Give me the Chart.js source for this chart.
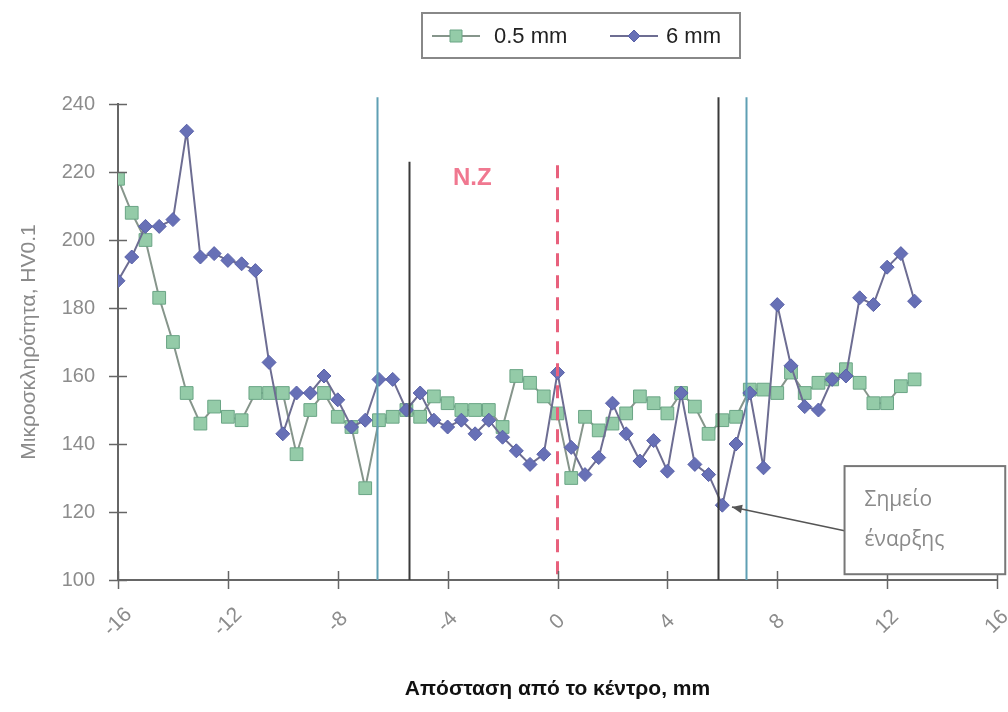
<!DOCTYPE html>
<html>
<head>
<meta charset="utf-8">
<script src="https://cdn.jsdelivr.net/npm/chart.js@4.4.1/dist/chart.umd.min.js"></script>
<style>
    html, body { margin: 0; padding: 0; background: #fff; }
    #wrap { width: 1008px; height: 712px; }
</style>
</head>
<body>
<div id="wrap"><canvas id="hvChart" width="1008" height="712"></canvas></div>
<script>
// Απόσταση από το κέντρο (mm)
const distances = [
    -16, -15.5, -15, -14.5, -14, -13.5, -13, -12.5, -12, -11.5, -11, -10.5, -10, -9.5, -9,
    -8.5, -8, -7.5, -7, -6.5, -6, -5.5, -5, -4.5, -4, -3.5, -3, -2.5, -2, -1.5,
    -1, -0.5, 0, 0.5, 1, 1.5, 2, 2.5, 3, 3.5, 4, 4.5, 5, 5.5, 6,
    6.5, 7, 7.5, 8, 8.5, 9, 9.5, 10, 10.5, 11, 11.5, 12, 12.5, 13
];

// Μικροσκληρότητα HV0.1 στα 0.5 mm
const hv05 = [
    218, 208, 200, 183, 170, 155, 146, 151, 148, 147, 155, 155, 155, 137, 150,
    155, 148, 145, 127, 147, 148, 150, 148, 154, 152, 150, 150, 150, 145, 160,
    158, 154, 149, 130, 148, 144, 146, 149, 154, 152, 149, 155, 151, 143, 147,
    148, 156, 156, 155, 161, 155, 158, 159, 162, 158, 152, 152, 157, 159
];

// Μικροσκληρότητα HV0.1 στα 6 mm
const hv6 = [
    188, 195, 204, 204, 206, 232, 195, 196, 194, 193, 191, 164, 143, 155, 155,
    160, 153, 145, 147, 159, 159, 150, 155, 147, 145, 147, 143, 147, 142, 138,
    134, 137, 161, 139, 131, 136, 152, 143, 135, 141, 132, 155, 134, 131, 122,
    140, 155, 133, 181, 163, 151, 150, 159, 160, 183, 181, 192, 196, 182
];

const seriesNames = ['0.5 mm', '6 mm'];
const xTicks = [-16, -12, -8, -4, 0, 4, 8, 12, 16];
const yTicks = [100, 120, 140, 160, 180, 200, 220, 240];

function toPoints(values) {
    return values.map(function (v, i) { return { x: distances[i], y: v }; });
}

// Γραμμές ζωνών, κείμενα, άξονες και υπόμνημα
const decorPlugin = {
    id: 'decor',
    afterDatasetsDraw(chart) {
        const { ctx, chartArea, scales: { x, y } } = chart;
        ctx.save();

        // όρια ζωνών
        const bounds = [
            { v: -6.57, from: 242, color: '#5f9fb4' },
            { v: -5.4, from: 223, color: '#3a3a3a' },
            { v: 5.84, from: 242, color: '#3a3a3a' },
            { v: 6.86, from: 242, color: '#5f9fb4' }
        ];
        ctx.lineWidth = 2;
        bounds.forEach(function (b) {
            const px = Math.round(x.getPixelForValue(b.v)) + 0.5;
            ctx.strokeStyle = b.color;
            ctx.beginPath();
            ctx.moveTo(px, y.getPixelForValue(b.from));
            ctx.lineTo(px, chartArea.bottom);
            ctx.stroke();
        });

        // κέντρο συγκόλλησης
        ctx.strokeStyle = '#e8607c';
        ctx.lineWidth = 3;
        ctx.setLineDash([13, 9]);
        ctx.beginPath();
        ctx.moveTo(x.getPixelForValue(0), y.getPixelForValue(222));
        ctx.lineTo(x.getPixelForValue(0), chartArea.bottom);
        ctx.stroke();
        ctx.setLineDash([]);

        ctx.fillStyle = '#f07890';
        ctx.font = 'bold 24px Arial, "Liberation Sans", sans-serif';
        ctx.textAlign = 'center';
        ctx.textBaseline = 'middle';
        ctx.fillText('N.Z', x.getPixelForValue(-3.1), y.getPixelForValue(218));

        // σημάδια αξόνων
        ctx.strokeStyle = '#666';
        ctx.lineWidth = 1.5;
        yTicks.forEach(function (v) {
            const py = Math.round(y.getPixelForValue(v)) + 0.5;
            ctx.beginPath();
            ctx.moveTo(chartArea.left - 9, py);
            ctx.lineTo(chartArea.left + 9, py);
            ctx.stroke();
        });
        xTicks.forEach(function (v) {
            const px = Math.round(x.getPixelForValue(v)) + 0.5;
            ctx.beginPath();
            ctx.moveTo(px, chartArea.bottom - 9);
            ctx.lineTo(px, chartArea.bottom + 9);
            ctx.stroke();
        });

        // ετικέτες άξονα x, πλάγιες
        ctx.fillStyle = '#8c8c8c';
        ctx.font = '21px Arial, "Liberation Sans", sans-serif';
        xTicks.forEach(function (v) {
            ctx.save();
            ctx.translate(x.getPixelForValue(v), chartArea.bottom + 42);
            ctx.rotate(-Math.PI / 4);
            ctx.fillText(String(v), 0, 0);
            ctx.restore();
        });

        // σημείο έναρξης
        const tipX = x.getPixelForValue(6.35), tipY = y.getPixelForValue(121.5);
        const bx0 = x.getPixelForValue(10.45), bx1 = x.getPixelForValue(16.3);
        const by0 = y.getPixelForValue(133.5), by1 = y.getPixelForValue(101.7);
        const ly = y.getPixelForValue(114.5);
        ctx.strokeStyle = '#555';
        ctx.lineWidth = 1.5;
        ctx.beginPath();
        ctx.moveTo(bx0, ly);
        ctx.lineTo(tipX, tipY);
        ctx.stroke();
        const ang = Math.atan2(tipY - ly, tipX - bx0);
        ctx.fillStyle = '#555';
        ctx.beginPath();
        ctx.moveTo(tipX, tipY);
        ctx.lineTo(tipX - 11 * Math.cos(ang - 0.4), tipY - 11 * Math.sin(ang - 0.4));
        ctx.lineTo(tipX - 11 * Math.cos(ang + 0.4), tipY - 11 * Math.sin(ang + 0.4));
        ctx.closePath();
        ctx.fill();

        ctx.fillStyle = '#fff';
        ctx.fillRect(bx0, by0, bx1 - bx0, by1 - by0);
        ctx.strokeStyle = '#777';
        ctx.lineWidth = 2;
        ctx.strokeRect(bx0, by0, bx1 - bx0, by1 - by0);
        ctx.fillStyle = '#8a8a8a';
        ctx.font = '21px "Open Sans", "Noto Sans", sans-serif';
        ctx.textAlign = 'left';
        ctx.textBaseline = 'alphabetic';
        ctx.fillText('Σημείο', bx0 + 20, by0 + 40);
        ctx.fillText('έναρξης', bx0 + 20, by0 + 80);

        ctx.restore();
    },
    afterDraw(chart) {
        const ctx = chart.ctx;
        const sets = chart.data.datasets;
        ctx.save();
        ctx.strokeStyle = '#888';
        ctx.lineWidth = 2;
        ctx.strokeRect(422, 13, 318, 45);

        const items = [
            { ds: sets[0], lx: 432, tx: 494 },
            { ds: sets[1], lx: 610, tx: 666 }
        ];
        ctx.font = '22px Arial, "Liberation Sans", sans-serif';
        ctx.textBaseline = 'middle';
        items.forEach(function (it) {
            const cy = 36;
            ctx.strokeStyle = it.ds.borderColor;
            ctx.lineWidth = 2;
            ctx.beginPath();
            ctx.moveTo(it.lx, cy);
            ctx.lineTo(it.lx + 48, cy);
            ctx.stroke();
            ctx.fillStyle = it.ds.pointBackgroundColor;
            ctx.strokeStyle = it.ds.pointBorderColor;
            ctx.lineWidth = 1;
            ctx.beginPath();
            if (it.ds.pointStyle === 'rect') {
                ctx.rect(it.lx + 18, cy - 6, 12, 12);
            } else {
                ctx.moveTo(it.lx + 24, cy - 6);
                ctx.lineTo(it.lx + 30, cy);
                ctx.lineTo(it.lx + 24, cy + 6);
                ctx.lineTo(it.lx + 18, cy);
                ctx.closePath();
            }
            ctx.fill();
            ctx.stroke();
            ctx.fillStyle = '#222';
            ctx.fillText(it.ds.label, it.tx, cy + 1);
        });
        ctx.restore();
    }
};

const ctx = document.getElementById('hvChart').getContext('2d');
new Chart(ctx, {
    type: 'line',
    data: {
        datasets: [{
            label: seriesNames[0],
            data: toPoints(hv05),
            borderColor: '#86958b',
            borderWidth: 2,
            pointStyle: 'rect',
            pointRadius: 9,
            pointBackgroundColor: '#94cba8',
            pointBorderColor: '#6aa585',
            pointBorderWidth: 1,
            order: 2
        }, {
            label: seriesNames[1],
            data: toPoints(hv6),
            borderColor: '#6d6d92',
            borderWidth: 2,
            pointStyle: 'rectRot',
            pointRadius: 7,
            pointBackgroundColor: '#6770b6',
            pointBorderColor: '#5961a8',
            pointBorderWidth: 1,
            order: 1
        }]
    },
    options: {
        responsive: false,
        animation: false,
        devicePixelRatio: 1,
        layout: { padding: { left: 0, top: 104, right: 11, bottom: 0 } },
        plugins: {
            legend: { display: false },
            tooltip: { enabled: false }
        },
        scales: {
            x: {
                type: 'linear',
                min: -16,
                max: 16,
                ticks: { stepSize: 4, display: false },
                grid: { drawOnChartArea: false, drawTicks: false },
                border: { display: true, color: '#666', width: 2 },
                title: {
                    display: true,
                    text: 'Απόσταση από το κέντρο, mm',
                    color: '#111',
                    font: { family: 'Arial, "Liberation Sans", sans-serif', size: 21, weight: 'bold' },
                    padding: { top: 10, bottom: 10 }
                },
                afterFit: function (s) { s.height = 132; }
            },
            y: {
                min: 100,
                max: 240,
                ticks: {
                    stepSize: 20,
                    color: '#8c8c8c',
                    padding: 23,
                    font: { family: 'Arial, "Liberation Sans", sans-serif', size: 20 }
                },
                grid: { drawOnChartArea: false, drawTicks: false },
                border: { display: true, color: '#666', width: 2 },
                title: {
                    display: true,
                    text: 'Μικροσκληρότητα, HV0.1',
                    color: '#8a8a8a',
                    font: { family: 'Arial, "Liberation Sans", sans-serif', size: 21 },
                    padding: { top: 17, bottom: 0 }
                },
                afterFit: function (s) { s.width = 118; }
            }
        }
    },
    plugins: [decorPlugin]
});
</script>
</body>
</html>
